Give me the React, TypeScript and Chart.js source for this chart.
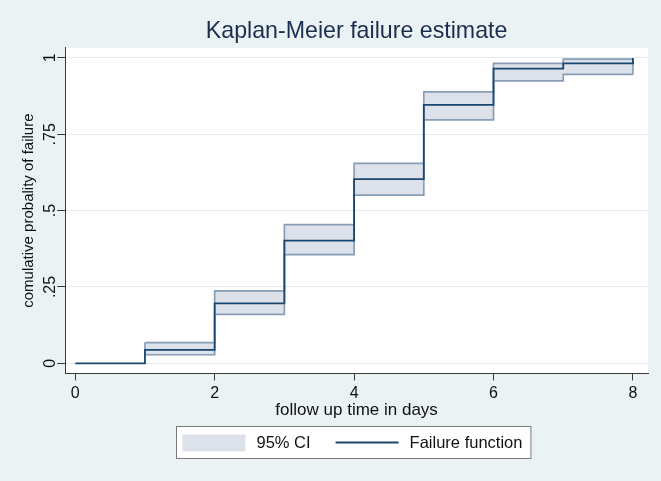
import React, { useEffect, useRef } from 'react';
import { Chart, registerables } from 'chart.js';

Chart.register(...registerables);

const FONT = "'Liberation Sans', Arial, Helvetica, sans-serif";

// ---- texts ----
const titleText = 'Kaplan-Meier failure estimate';
const xAxisTitle = 'follow up time in days';
const yAxisTitle = 'comulative probality of failure';
const legendLabels = ['95% CI', 'Failure function'];

// ---- Kaplan-Meier failure function (value from each time on) ----
const kmTimes = [0, 1, 2, 3, 4, 5, 6, 7, 8];
const kmFailure = [0, 0.044, 0.196, 0.402, 0.603, 0.846, 0.965, 0.982, 1.0];

// ---- 95% confidence band (value from each time on) ----
const ciTimes = [1, 2, 3, 4, 5, 6, 7];
const ciLower = [0.028, 0.16, 0.356, 0.551, 0.797, 0.925, 0.946];
const ciUpper = [0.068, 0.237, 0.454, 0.655, 0.889, 0.982, 0.996];
const ciEndTime = 8;

// ---- axes ----
const xTicks = [0, 2, 4, 6, 8];
const yTicks = [0, 0.25, 0.5, 0.75, 1];
const yTickLabels = ['0', '.25', '.5', '.75', '1'];
const xRange = [-0.144, 8.216];
const yRange = [-0.033, 1.033];

// ---- colours ----
const BG = '#eaf2f3';
const KM_COLOR = '#1a476f';
const CI_FILL = '#dce1ea';
const CI_LINE = '#889eb6';
const GRID = '#e3ebee';
const AXIS = '#3a3a3a';
const TEXT = '#111111';
const TITLE_COLOR = '#1c2e50';

const bandPoints = (vals: number[]) => {
  const pts = ciTimes.map((t, i) => ({ x: t, y: vals[i] }));
  pts.push({ x: ciEndTime, y: vals[vals.length - 1] });
  return pts;
};

const plotBgPlugin = {
  id: 'plotBg',
  beforeDraw(chart: any) {
    const { ctx, chartArea: ca } = chart;
    ctx.save();
    ctx.fillStyle = '#ffffff';
    ctx.fillRect(ca.left, ca.top, ca.right - ca.left, ca.bottom - ca.top);
    ctx.restore();
  },
};

const stataLegendPlugin = {
  id: 'stataLegend',
  afterDraw(chart: any) {
    const { ctx, chartArea: ca } = chart;
    ctx.save();
    const fs = 16.5;
    ctx.font = `${fs}px ${FONT}`;
    const swW = 63;
    const gapT = 11;
    const gapItem = 25;
    const padL = 6;
    const padR = 8.5;
    const w0 = ctx.measureText(legendLabels[0]).width;
    const w1 = ctx.measureText(legendLabels[1]).width;
    const total = padL + swW + gapT + w0 + gapItem + swW + gapT + w1 + padR;
    const cx = (ca.left + ca.right) / 2 - 3;
    const left = Math.round(cx - total / 2) + 0.5;
    const top = Math.round(ca.bottom + 53) + 0.5;
    const h = 32;
    ctx.fillStyle = '#ffffff';
    ctx.fillRect(left, top, total, h);
    ctx.strokeStyle = '#7a7a7a';
    ctx.lineWidth = 1;
    ctx.strokeRect(left, top, total, h);

    const midY = top + h / 2;
    let x = left + padL;
    ctx.fillStyle = CI_FILL;
    ctx.fillRect(x, midY - 8, swW, 17);
    x += swW + gapT;
    ctx.fillStyle = TEXT;
    ctx.textBaseline = 'middle';
    ctx.textAlign = 'left';
    ctx.fillText(legendLabels[0], x, midY + 1);
    x += w0 + gapItem;
    ctx.strokeStyle = KM_COLOR;
    ctx.lineWidth = 1.8;
    ctx.beginPath();
    ctx.moveTo(x, midY);
    ctx.lineTo(x + swW, midY);
    ctx.stroke();
    x += swW + gapT;
    ctx.fillText(legendLabels[1], x, midY + 1);
    ctx.restore();
  },
};

export default function App() {
  const canvasRef = useRef<HTMLCanvasElement | null>(null);

  useEffect(() => {
    if (!canvasRef.current) return;
    Chart.defaults.font.family = FONT;
    const chart = new Chart(canvasRef.current, {
      type: 'line',
      data: {
        datasets: [
          {
            label: legendLabels[1],
            data: kmTimes.map((t, i) => ({ x: t, y: kmFailure[i] })),
            borderColor: KM_COLOR,
            borderWidth: 1.8,
            stepped: 'before',
            pointRadius: 0,
            fill: false,
          },
          {
            label: 'upper',
            data: bandPoints(ciUpper),
            borderColor: CI_LINE,
            borderWidth: 1.7,
            backgroundColor: CI_FILL,
            stepped: 'before',
            pointRadius: 0,
            fill: '+1',
          },
          {
            label: 'lower',
            data: bandPoints(ciLower),
            borderColor: CI_LINE,
            borderWidth: 1.7,
            stepped: 'before',
            pointRadius: 0,
            fill: false,
          },
          {
            label: 'startEdge',
            data: [
              { x: ciTimes[0], y: ciLower[0] },
              { x: ciTimes[0], y: ciUpper[0] },
            ],
            borderColor: CI_LINE,
            borderWidth: 1.7,
            pointRadius: 0,
            fill: false,
          },
          {
            label: 'endEdge',
            data: [
              { x: ciEndTime, y: ciLower[ciLower.length - 1] },
              { x: ciEndTime, y: ciUpper[ciUpper.length - 1] },
            ],
            borderColor: CI_LINE,
            borderWidth: 1.7,
            pointRadius: 0,
            fill: false,
          },
        ],
      },
      options: {
        animation: false,
        responsive: false,
        layout: { padding: { left: 8, right: 13, top: 8, bottom: 57 } },
        scales: {
          x: {
            type: 'linear',
            min: xRange[0],
            max: xRange[1],
            afterBuildTicks: (scale: any) => {
              scale.ticks = xTicks.map((v) => ({ value: v }));
            },
            ticks: {
              color: TEXT,
              font: { size: 16 },
              padding: 4,
              maxRotation: 0,
              callback: (v: any) => String(v),
            },
            grid: {
              drawOnChartArea: false,
              drawTicks: true,
              tickLength: 7,
              tickColor: AXIS,
              tickWidth: 1,
            },
            border: { display: true, color: AXIS, width: 1 },
            title: {
              display: true,
              text: xAxisTitle,
              color: TEXT,
              font: { size: 17 },
              padding: { top: -7, bottom: 3 },
            },
          },
          y: {
            type: 'linear',
            min: yRange[0],
            max: yRange[1],
            afterBuildTicks: (scale: any) => {
              scale.ticks = yTicks.map((v) => ({ value: v }));
            },
            ticks: {
              color: TEXT,
              font: { size: 16 },
              padding: -5,
              minRotation: 90,
              maxRotation: 90,
              crossAlign: 'center',
              callback: (_v: any, i: number) => yTickLabels[i],
            },
            grid: {
              color: GRID,
              lineWidth: 1,
              drawTicks: true,
              tickLength: 8,
              tickColor: AXIS,
              tickWidth: 1,
            },
            border: { display: true, color: AXIS, width: 1 },
            title: {
              display: true,
              text: yAxisTitle,
              color: TEXT,
              font: { size: 15 },
              padding: { top: 12, bottom: 10 },
            },
          },
        },
        plugins: {
          legend: { display: false },
          tooltip: { enabled: false },
          filler: { drawTime: 'beforeDatasetsDraw' },
          title: {
            display: true,
            text: titleText,
            fullSize: false,
            color: TITLE_COLOR,
            font: { size: 23.2, weight: 'normal' },
            padding: { top: 10, bottom: 2 },
          },
        },
      } as any,
      plugins: [plotBgPlugin, stataLegendPlugin],
    });
    return () => chart.destroy();
  }, []);

  return (
    <div
      style={{
        position: 'fixed',
        left: 0,
        top: 0,
        width: 661,
        height: 481,
        background: BG,
        overflow: 'hidden',
      }}
    >
      <canvas ref={canvasRef} width={661} height={481} style={{ display: 'block' }} />
    </div>
  );
}
